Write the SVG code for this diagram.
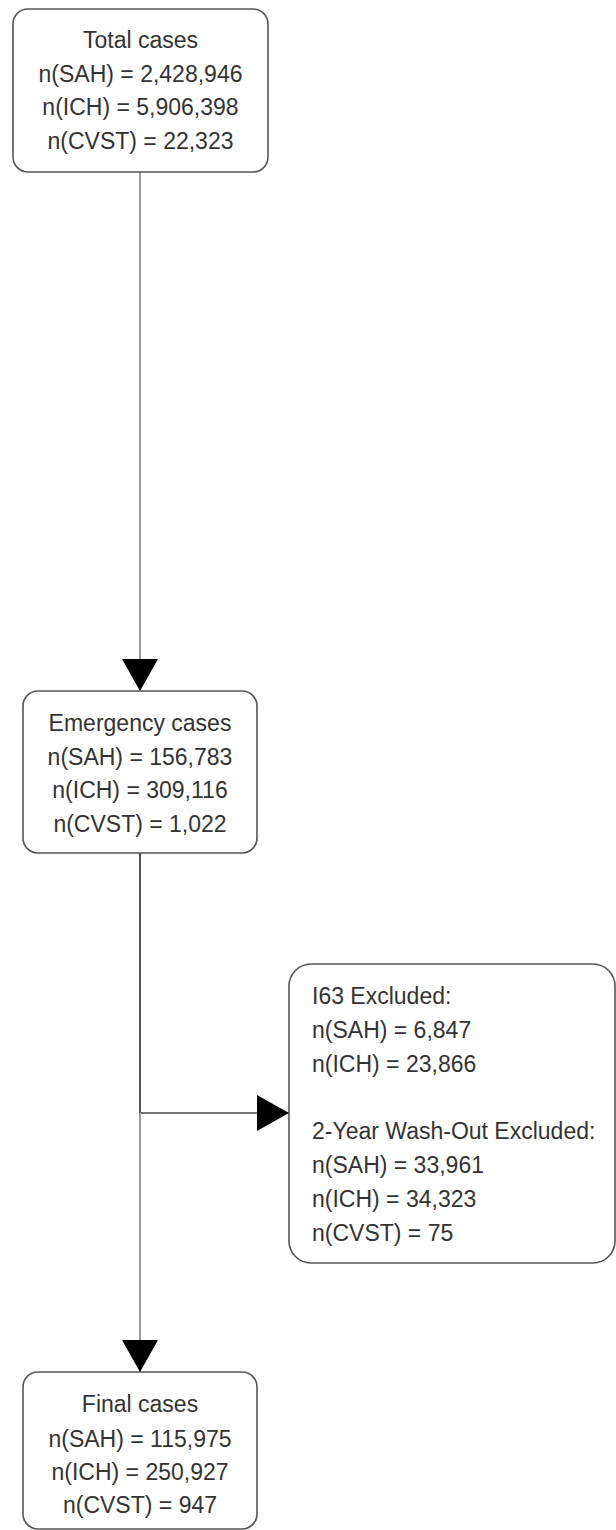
<svg xmlns="http://www.w3.org/2000/svg" width="616" height="1530" viewBox="0 0 616 1530">
<style>
.box{fill:#fff;stroke:#555;stroke-width:1.6}
.t{font-family:"Liberation Sans",Arial,sans-serif;font-size:23px;fill:#333}
.c{text-anchor:middle}
.ln{fill:none;stroke-width:2}
</style>
<defs>
<marker id="ah" markerUnits="userSpaceOnUse" markerWidth="36" markerHeight="36" viewBox="0 0 32 36" refX="32" refY="18" orient="auto">
<path d="M0,0 L32,18 L0,36 Z" fill="#000"/>
</marker>
</defs>
<rect width="616" height="1530" fill="#fff"/>
<g id="connectors">
<line class="ln" x1="140" y1="172" x2="140" y2="691" stroke="#999" marker-end="url(#ah)"/>
<line class="ln" x1="140" y1="853" x2="140" y2="1113" stroke="#555"/>
<line class="ln" x1="140" y1="1113" x2="289" y2="1113" stroke="#777" marker-end="url(#ah)"/>
<line class="ln" x1="140" y1="1113" x2="140" y2="1372" stroke="#999" marker-end="url(#ah)"/>
</g>
<g id="total">
<rect class="box" x="13" y="9" width="255" height="163" rx="15"/>
<text class="t c" x="140.5" y="48">Total cases</text>
<text class="t c" x="140.5" y="82">n(SAH) = 2,428,946</text>
<text class="t c" x="140.5" y="115">n(ICH) = 5,906,398</text>
<text class="t c" x="140.5" y="149">n(CVST) = 22,323</text>
</g>
<g id="emergency">
<rect class="box" x="23" y="691" width="234" height="162" rx="15"/>
<text class="t c" x="140" y="731">Emergency cases</text>
<text class="t c" x="140" y="765">n(SAH) = 156,783</text>
<text class="t c" x="140" y="798">n(ICH) = 309,116</text>
<text class="t c" x="140" y="832">n(CVST) = 1,022</text>
</g>
<g id="excluded">
<rect class="box" x="289" y="964" width="326" height="299" rx="22"/>
<text class="t" x="312" y="1004">I63 Excluded:</text>
<text class="t" x="312" y="1038">n(SAH) = 6,847</text>
<text class="t" x="312" y="1072">n(ICH) = 23,866</text>
<text class="t" x="312" y="1139">2-Year Wash-Out Excluded:</text>
<text class="t" x="312" y="1173">n(SAH) = 33,961</text>
<text class="t" x="312" y="1207">n(ICH) = 34,323</text>
<text class="t" x="312" y="1241">n(CVST) = 75</text>
</g>
<g id="final">
<rect class="box" x="23" y="1372" width="234" height="157" rx="15"/>
<text class="t c" x="140" y="1412">Final cases</text>
<text class="t c" x="140" y="1447">n(SAH) = 115,975</text>
<text class="t c" x="140" y="1480">n(ICH) = 250,927</text>
<text class="t c" x="140" y="1513">n(CVST) = 947</text>
</g>
</svg>
